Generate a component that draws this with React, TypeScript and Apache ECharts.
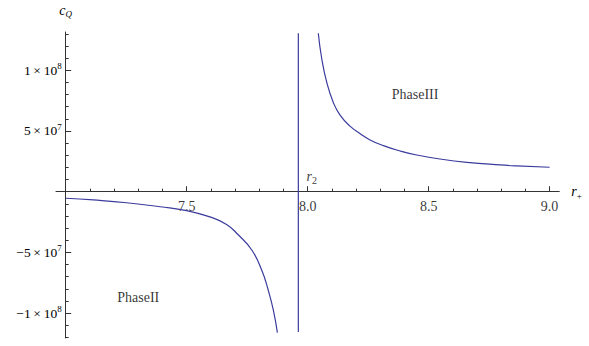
import React, { useEffect, useRef } from 'react';
import * as echarts from 'echarts';

// ---- data ----
const leftBranchX = [7.0, 7.114, 7.252, 7.39, 7.5, 7.596, 7.665, 7.713, 7.769, 7.81, 7.837, 7.858, 7.875];
const leftBranchY = [-5.4e6, -6.8e6, -9.1e6, -1.24e7, -1.56e7, -2.08e7, -2.7e7, -3.55e7, -4.8e7, -6.45e7, -8.1e7, -9.74e7, -1.161e8];
const rightBranchX = [8.044, 8.058, 8.079, 8.106, 8.134, 8.175, 8.217, 8.258, 8.313, 8.382, 8.451, 8.548, 8.658, 8.796, 8.865, 9.0];
const rightBranchY = [1.305e8, 1.099e8, 9.0e7, 7.35e7, 6.3e7, 5.4e7, 4.78e7, 4.26e7, 3.79e7, 3.35e7, 3.02e7, 2.69e7, 2.42e7, 2.2e7, 2.12e7, 2.01e7];
const r2Value = 7.9615;
const r2LineY = [-1.155e8, 1.305e8];

const xMajorTicks = [7.5, 8.0, 8.5, 9.0];
const xMinorTicks = [7.1, 7.2, 7.3, 7.4, 7.6, 7.7, 7.8, 7.9, 8.1, 8.2, 8.3, 8.4, 8.6, 8.7, 8.8, 8.9];
const yMajorTicks = [-1e8, -5e7, 5e7, 1e8];
const yMajorMantissa = ['\u22121', '\u22125', '5', '1'];
const yMajorExponent = ['8', '7', '7', '8'];
const yMinorTicks = [-1.2e8, -1.1e8, -9e7, -8e7, -7e7, -6e7, -4e7, -3e7, -2e7, -1e7, 1e7, 2e7, 3e7, 4e7, 6e7, 7e7, 8e7, 9e7, 1.1e8, 1.2e8, 1.3e8];

const phaseNames = ['PhaseII', 'PhaseIII'];
const phaseX = [7.3, 8.444];
const phaseY = [-8.7e7, 8.02e7];
const r2LabelX = 8.017;
const r2LabelY = 1.24e7;

const xMin = 6.96;
const xMax = 9.04;
const yMin = -1.205e8;
const yMax = 1.315e8;
const yAxisAt = 7.0;

const W = 589;
const H = 346;
const gridLeft = 56;
const gridRight = 29.7;
const gridTop = 32;
const gridBottom = 8;

const FONT = '"Liberation Serif", "DejaVu Serif", serif';
const LINE_COLOR = '#3b3b9e';
const AXIS_COLOR = '#333';

export default function App() {
  const ref = useRef<HTMLDivElement>(null);
  useEffect(() => {
    document.body.style.margin = '0';
    if (!ref.current) return;
    const chart = echarts.init(ref.current, undefined, { renderer: 'svg' });
    const pxPerUnit = (W - gridLeft - gridRight) / (xMax - xMin);
    const yOffset = -(yAxisAt - xMin) * pxPerUnit;

    const yFmt = (v: number) => {
      const i = yMajorTicks.findIndex((t) => Math.abs(t - v) < 1);
      if (i < 0) return '';
      return `{m|${yMajorMantissa[i]}\u2009\u00d7\u200910}{e|${yMajorExponent[i]}}`;
    };

    const baseX = {
      type: 'value' as const,
      min: xMin,
      max: xMax,
      position: 'bottom' as const,
      splitLine: { show: false },
      axisLine: { onZero: true, onZeroAxisIndex: 0, lineStyle: { color: AXIS_COLOR, width: 1 } },
    };
    const baseY = {
      type: 'value' as const,
      min: yMin,
      max: yMax,
      position: 'left' as const,
      offset: yOffset,
      splitLine: { show: false },
      axisLine: { onZero: false, lineStyle: { color: AXIS_COLOR, width: 1 } },
    };

    chart.setOption({
      animation: false,
      grid: {
        left: gridLeft,
        right: gridRight,
        top: gridTop,
        bottom: gridBottom,
        containLabel: false,
        outerBoundsMode: 'none',
      },
      xAxis: [
        {
          ...baseX,
          name: '{r|r}{s|+}',
          nameLocation: 'end',
          nameGap: 12,
          nameTextStyle: {
            rich: {
              r: { fontFamily: FONT, fontStyle: 'italic', fontSize: 14, color: '#000', lineHeight: 16 },
              s: { fontFamily: FONT, fontSize: 9, color: '#000', lineHeight: 10, padding: [8, 0, 0, 0] },
            },
          },
          axisTick: { show: true, inside: true, length: 5.5, customValues: xMajorTicks, lineStyle: { color: AXIS_COLOR } },
          axisLabel: { show: false },
        },
        {
          ...baseX,
          axisLine: { ...baseX.axisLine, show: false },
          axisTick: { show: true, inside: true, length: 3, customValues: xMinorTicks, lineStyle: { color: AXIS_COLOR } },
          axisLabel: { show: false },
        },
      ],
      yAxis: [
        {
          ...baseY,
          name: '{c|c}{q|Q}',
          nameLocation: 'end',
          nameGap: 14,
          nameTextStyle: {
            align: 'center',
            rich: {
              c: { fontFamily: FONT, fontStyle: 'italic', fontSize: 14, color: '#000', lineHeight: 16 },
              q: { fontFamily: FONT, fontStyle: 'italic', fontSize: 9, color: '#000', lineHeight: 10, padding: [8, 0, 0, 0] },
            },
          },
          axisTick: { show: true, inside: true, length: 5.5, customValues: yMajorTicks, lineStyle: { color: AXIS_COLOR } },
          axisLabel: {
            show: true,
            customValues: yMajorTicks,
            margin: 4,
            formatter: yFmt,
            rich: {
              m: { fontFamily: FONT, fontSize: 13.5, color: '#000', lineHeight: 16 },
              e: { fontFamily: FONT, fontSize: 9, color: '#000', lineHeight: 10, padding: [0, 0, 8, 0] },
            },
          },
        },
        {
          ...baseY,
          axisLine: { ...baseY.axisLine, show: false },
          axisTick: { show: true, inside: true, length: 3, customValues: yMinorTicks, lineStyle: { color: AXIS_COLOR } },
          axisLabel: { show: false },
        },
      ],
      series: [
        {
          type: 'line',
          name: 'PhaseII branch',
          xAxisIndex: 0,
          yAxisIndex: 0,
          data: leftBranchX.map((x, i) => [x, leftBranchY[i]]),
          showSymbol: false,
          smooth: 0.5,
          lineStyle: { color: LINE_COLOR, width: 1.2 },
        },
        {
          type: 'line',
          name: 'PhaseIII branch',
          xAxisIndex: 0,
          yAxisIndex: 0,
          data: rightBranchX.map((x, i) => [x, rightBranchY[i]]),
          showSymbol: false,
          smooth: 0.5,
          lineStyle: { color: LINE_COLOR, width: 1.2 },
        },
        {
          type: 'line',
          name: 'r2',
          xAxisIndex: 0,
          yAxisIndex: 0,
          data: r2LineY.map((y) => [r2Value, y]),
          showSymbol: false,
          lineStyle: { color: LINE_COLOR, width: 1.2 },
        },
        {
          // x tick labels, placed on the y = 0 axis line
          type: 'scatter',
          xAxisIndex: 0,
          yAxisIndex: 0,
          symbolSize: 1,
          silent: true,
          itemStyle: { color: 'rgba(0,0,0,0)' },
          data: xMajorTicks.map((t) => ({ name: t.toFixed(1), value: [t, 0] })),
          label: {
            show: true,
            position: 'bottom',
            distance: 7,
            formatter: '{b}',
            fontFamily: FONT,
            fontSize: 14,
            color: '#000',
          },
        },
        {
          type: 'scatter',
          xAxisIndex: 0,
          yAxisIndex: 0,
          symbolSize: 1,
          silent: true,
          itemStyle: { color: 'rgba(0,0,0,0)' },
          data: phaseNames.map((n, i) => ({ name: n, value: [phaseX[i], phaseY[i]] })),
          label: {
            show: true,
            position: 'inside',
            formatter: '{b}',
            fontFamily: FONT,
            fontSize: 14,
            color: '#000',
          },
        },
        {
          type: 'scatter',
          xAxisIndex: 0,
          yAxisIndex: 0,
          symbolSize: 1,
          silent: true,
          itemStyle: { color: 'rgba(0,0,0,0)' },
          data: [{ name: 'r2', value: [r2LabelX, r2LabelY] }],
          label: {
            show: true,
            position: 'inside',
            formatter: '{r|r}{s|2}',
            rich: {
              r: { fontFamily: FONT, fontStyle: 'italic', fontSize: 14, color: '#000', lineHeight: 16 },
              s: { fontFamily: FONT, fontSize: 10, color: '#000', lineHeight: 10, padding: [8, 0, 0, 0] },
            },
          },
        },
      ],
    });
    return () => chart.dispose();
  }, []);
  return <div ref={ref} style={{ width: W, height: H }} />;
}
